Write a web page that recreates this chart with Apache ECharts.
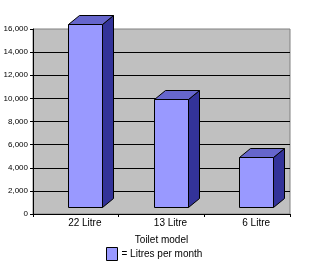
<!DOCTYPE html>
<html><head><meta charset="utf-8">
<script src="https://cdn.jsdelivr.net/npm/echarts@6/dist/echarts.min.js"></script>
<style>html,body{margin:0;padding:0;background:#fff}#c{width:316px;height:266px}</style>
</head><body><div id="c"></div>
<script>
const categories = ['22 Litre', '13 Litre', '6 Litre'];
const litresPerMonth = [15840, 9360, 4320];
const seriesName = '= Litres per month';
const axisTitle = 'Toilet model';
const yMin = 0, yMax = 16000, yStep = 2000;

const chart = echarts.init(document.getElementById('c'), null, {renderer: 'canvas'});
const FONT = 'Liberation Sans, Arial, sans-serif';

function renderItem(params, api) {
  const c = api.coord([api.value(0), api.value(1)]);
  const z = api.coord([api.value(0), 0]);
  const w = 34, dx = 11, dy = 9, lift = 7, shift = 9;
  const x0 = Math.round(c[0] + shift - w / 2) + 0.5, x1 = x0 + w;
  const yt = Math.round(c[1] - lift) + 0.5, yb = Math.round(z[1] - lift) + 0.5;
  return {
    type: 'group',
    children: [
      {type: 'polygon', shape: {points: [[x1, yb], [x1 + dx, yb - dy], [x1 + dx, yt - dy], [x1, yt]]},
       style: {fill: '#333399', stroke: '#000', lineWidth: 1}},
      {type: 'polygon', shape: {points: [[x0, yt], [x0 + dx, yt - dy], [x1 + dx, yt - dy], [x1, yt]]},
       style: {fill: '#6666CC', stroke: '#000', lineWidth: 1}},
      {type: 'rect', shape: {x: x0, y: yt, width: w, height: yb - yt},
       style: {fill: '#9999FF', stroke: '#000', lineWidth: 1}}
    ]
  };
}

chart.setOption({
  animation: false,
  backgroundColor: '#fff',
  grid: {left: 33, top: 29, right: 26, bottom: 52, show: true,
         backgroundColor: '#C0C0C0', borderColor: '#808080', borderWidth: 1},
  legend: {
    data: [seriesName], left: 106, top: 247, padding: 0, itemWidth: 11, itemHeight: 13, itemGap: 4,
    icon: 'rect',
    itemStyle: {color: '#9999FF', borderColor: '#000', borderWidth: 1},
    textStyle: {fontFamily: FONT, fontSize: 10, color: '#000', padding: [0, 0, 0, -1]}
  },
  xAxis: {
    type: 'category', data: categories, boundaryGap: true,
    name: axisTitle, nameLocation: 'middle', nameGap: 21,
    nameTextStyle: {fontFamily: FONT, fontSize: 10, color: '#000'},
    axisLine: {lineStyle: {color: '#000', width: 1}},
    axisTick: {show: true, length: 3, lineStyle: {color: '#000'}},
    axisLabel: {fontFamily: FONT, fontSize: 10, color: '#000', margin: 4, padding: [0, 0, 0, 18]},
    splitLine: {show: false}
  },
  yAxis: {
    type: 'value', min: yMin, max: yMax, interval: yStep,
    axisLine: {show: true, lineStyle: {color: '#000', width: 1}},
    axisTick: {show: true, length: 3, lineStyle: {color: '#000'}},
    axisLabel: {fontFamily: FONT, fontSize: 8, color: '#000', margin: 5,
                formatter: v => v.toLocaleString('en-US')},
    splitLine: {show: true, showMaxLine: false, showMinLine: false, lineStyle: {color: '#000', width: 1}}
  },
  series: [{
    name: seriesName, type: 'custom', renderItem: renderItem, clip: false,
    itemStyle: {color: '#9999FF', borderColor: '#000', borderWidth: 1},
    encode: {x: 0, y: 1},
    data: litresPerMonth.map((v, i) => [i, v])
  }]
});
</script></body></html>
